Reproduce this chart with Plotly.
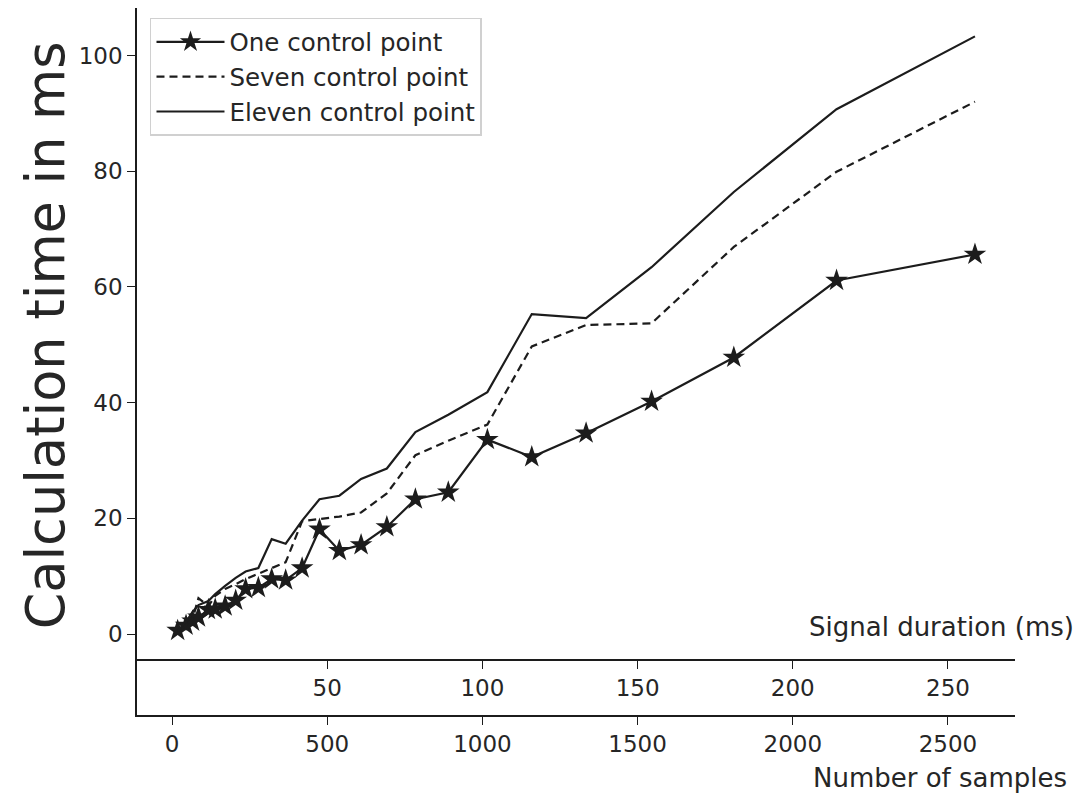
import numpy as np
import plotly.graph_objects as go

# Data
samples = [18, 45, 66, 85, 117, 139, 171, 205, 237, 278, 321, 366, 419, 475,
           539, 609, 692, 784, 890, 1016, 1159, 1334, 1545, 1810, 2141, 2587]
one_cp = [0.6, 1.5, 2.2, 2.9, 4.2, 4.3, 4.8, 5.8, 7.8, 8.0, 9.5, 9.3, 11.4, 18.1,
          14.4, 15.4, 18.5, 23.3, 24.5, 33.6, 30.6, 34.7, 40.2, 47.8, 61.1, 65.6]
seven_cp = [0.5, 1.4, 2.6, 6.2, 4.8, 6.6, 7.8, 8.6, 9.5, 10.4, 11.4, 12.4, 19.5, 19.9,
            20.3, 21.0, 24.3, 30.9, 33.4, 36.2, 49.7, 53.4, 53.7, 66.9, 79.9, 92.0]
eleven_cp = [0.5, 2.1, 3.8, 5.0, 5.7, 6.9, 8.3, 9.7, 10.8, 11.4, 16.4, 15.6, 19.6, 23.3,
             23.9, 26.8, 28.6, 34.9, 37.9, 41.8, 55.3, 54.6, 63.4, 76.4, 90.7, 103.3]

sample_ticks = [0, 500, 1000, 1500, 2000, 2500]
duration_ticks = [50, 100, 150, 200, 250]
y_ticks = [0, 20, 40, 60, 80, 100]
sampling_factor = 10  # samples per ms

FONT = "DejaVu Sans"
INK = "#1c1c1c"
TXT = "#262626"

x_range = [-113, 2716]
y_range = [-14.0, 108.2]

fig = go.Figure()
fig.add_trace(go.Scatter(
    x=samples, y=one_cp, name="One control point", mode="lines+markers",
    line=dict(color=INK, width=2.2),
    marker=dict(symbol="star", size=17, color=INK, line=dict(width=0)),
))
fig.add_trace(go.Scatter(
    x=samples, y=seven_cp, name="Seven control point", mode="lines",
    line=dict(color=INK, width=2.2, dash="8px,5px"),
))
fig.add_trace(go.Scatter(
    x=samples, y=eleven_cp, name="Eleven control point", mode="lines",
    line=dict(color=INK, width=2.2),
))
# invisible trace to register the signal-duration axis
fig.add_trace(go.Scatter(
    x=[s / sampling_factor for s in samples], y=one_cp, xaxis="x2",
    mode="lines", line=dict(color="rgba(0,0,0,0)"), showlegend=False,
    hoverinfo="skip",
))

axis_common = dict(showgrid=False, zeroline=False, showline=True, linecolor=INK,
                   linewidth=1.5, ticks="outside", ticklen=8, tickwidth=1.3,
                   tickcolor=INK, tickfont=dict(family=FONT, size=23, color=TXT))

# page body has an 8px margin -> figure drawn at (8, 8)
fig.update_layout(
    width=1075, height=788,
    paper_bgcolor="white", plot_bgcolor="white",
    margin=dict(l=129, r=68, t=0, b=81),
    font=dict(family=FONT, color=TXT),
    xaxis=dict(range=x_range, tickvals=sample_ticks, anchor="y", **axis_common),
    xaxis2=dict(range=[v / sampling_factor for v in x_range], tickvals=duration_ticks,
                overlaying="x", anchor="free", position=0.0778, side="bottom",
                **axis_common),
    yaxis=dict(range=y_range, tickvals=y_ticks, **axis_common),
    legend=dict(x=0.0148, y=0.986, xanchor="left", yanchor="top",
                bgcolor="white", bordercolor="#d0d0d0", borderwidth=1.5,
                font=dict(family=FONT, size=24.5, color=TXT),
                itemwidth=68, tracegroupgap=0),
    showlegend=True,
)

fig.add_annotation(text="Calculation time in ms", textangle=-90,
                   xref="paper", yref="paper", x=-0.1048, y=0.537,
                   xanchor="center", yanchor="middle", showarrow=False,
                   font=dict(family=FONT, size=52.5, color=TXT))
fig.add_annotation(text="Signal duration (ms)", xref="paper", yref="paper",
                   x=1.0695, y=0.124, xanchor="right", yanchor="middle",
                   showarrow=False, font=dict(family=FONT, size=26, color=TXT))
fig.add_annotation(text="Number of samples", xref="paper", yref="paper",
                   x=1.0615, y=-0.0894, xanchor="right", yanchor="middle",
                   showarrow=False, font=dict(family=FONT, size=26, color=TXT))

fig.write_html("out.html")
